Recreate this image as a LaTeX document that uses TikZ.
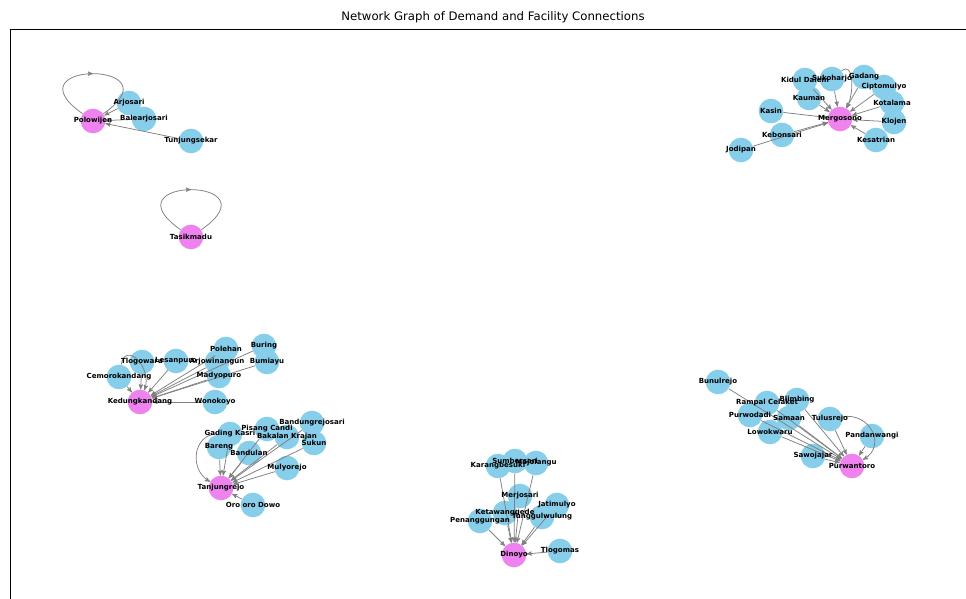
\documentclass[tikz,border=0pt]{standalone}
\usepackage{fontspec}
\setmainfont{DejaVu Sans}
\usepackage{tikz}
\usetikzlibrary{arrows,decorations.markings}
\definecolor{skyblue}{RGB}{135,206,235}
\definecolor{violetpink}{RGB}{238,130,238}
\definecolor{edgegray}{RGB}{128,128,128}
\tikzset{x=0.03cm, y=-0.03cm,
	demand/.style={
		circle,
		fill=skyblue,
		minimum size=0.74cm,
		inner sep=0pt
	},
	facility/.style={
		circle,
		fill=violetpink,
		minimum size=0.74cm,
		inner sep=0pt
	},
	lbl/.style={font=\bfseries\fontsize{6}{7}\selectfont, inner sep=0pt},
	every edge/.style={
		draw=edgegray,
		->,>=stealth',
		line width=0.65pt
	},
	selfloop/.style={
		draw=edgegray,
		line width=0.65pt,
		postaction={decorate},
		decoration={markings, mark=at position 0.5 with {\arrow{stealth'}}}
	}
}

\begin{document}
\begin{tikzpicture}
	\useasboundingbox (0,0) rectangle (966,599);
	\node (title) at (493,17) {\fontsize{10}{12}\selectfont Network Graph of Demand and Facility Connections};
	\draw[line width=0.7pt] (10,599) -- (10,29) -- (966,29);

	% Polowijen and Tasikmadu
	\node[facility] (polowijen) at (93,121) {};
	\node[demand] (arjosari) at (129,103) {};
	\node[demand] (balearjosari) at (144,119) {};
	\node[demand] (tunjungsekar) at (191,141) {};
	\node[facility] (tasikmadu) at (191,237) {};

	% Mergosono
	\node[facility] (mergosono) at (840,119) {};
	\node[demand] (kiduldalem) at (805,80) {};
	\node[demand] (sukoharjo) at (832,79) {};
	\node[demand] (gadang) at (864,77) {};
	\node[demand] (ciptomulyo) at (884,87) {};
	\node[demand] (kotalama) at (892,103) {};
	\node[demand] (klojen) at (894,122) {};
	\node[demand] (kesatrian) at (876,140) {};
	\node[demand] (kauman) at (809,98) {};
	\node[demand] (kasin) at (771,111) {};
	\node[demand] (kebonsari) at (782,135) {};
	\node[demand] (jodipan) at (741,150) {};

	% Kedungkandang
	\node[facility] (kedungkandang) at (140,402) {};
	\node[demand] (wonokoyo) at (215,402) {};
	\node[demand] (cemorokandang) at (119,377) {};
	\node[demand] (tlogowaru) at (142,362) {};
	\node[demand] (lesanpuro) at (176,361) {};
	\node[demand] (polehan) at (226,349) {};
	\node[demand] (arjowinangun) at (217,362) {};
	\node[demand] (madyopuro) at (219,376) {};
	\node[demand] (buring) at (264,346) {};
	\node[demand] (bumiayu) at (267,362) {};

	% Tanjungrejo
	\node[facility] (tanjungrejo) at (221,488) {};
	\node[demand] (orooro) at (253,505) {};
	\node[demand] (mulyorejo) at (287,468) {};
	\node[demand] (bandungrejosari) at (312,423) {};
	\node[demand] (sukun) at (314,443) {};
	\node[demand] (bakalan) at (287,437) {};
	\node[demand] (pisangcandi) at (267,429) {};
	\node[demand] (gadingkasri) at (230,434) {};
	\node[demand] (bareng) at (219,447) {};
	\node[demand] (bandulan) at (249,453) {};

	% Dinoyo
	\node[facility] (dinoyo) at (514,555) {};
	\node[demand] (tlogomas) at (560,551) {};
	\node[demand] (sumbersari) at (515,461) {};
	\node[demand] (karangbesuki) at (498,466) {};
	\node[demand] (mojolangu) at (536,463) {};
	\node[demand] (merjosari) at (520,496) {};
	\node[demand] (jatimulyo) at (557,505) {};
	\node[demand] (ketawanggede) at (505,513) {};
	\node[demand] (tunggulwulung) at (542,517) {};
	\node[demand] (penanggungan) at (480,521) {};

	% Purwantoro
	\node[facility] (purwantoro) at (852,466) {};
	\node[demand] (bunulrejo) at (718,382) {};
	\node[demand] (rampal) at (767,403) {};
	\node[demand] (blimbing) at (797,400) {};
	\node[demand] (purwodadi) at (750,415) {};
	\node[demand] (samaan) at (789,418) {};
	\node[demand] (tulusrejo) at (830,419) {};
	\node[demand] (lowokwaru) at (770,432) {};
	\node[demand] (pandanwangi) at (872,436) {};
	\node[demand] (sawojajar) at (813,456) {};

	% connections
	\draw (arjosari) edge (polowijen) (balearjosari) edge (polowijen) (tunjungsekar) edge (polowijen);
	\draw[selfloop] (polowijen) to[out=145,in=35,distance=2.8cm] (polowijen);
	\draw[selfloop] (tasikmadu) to[out=145,in=35,distance=2.8cm] (tasikmadu);

	\draw (kiduldalem) edge (mergosono) (sukoharjo) edge (mergosono) (gadang) edge (mergosono)
		(ciptomulyo) edge (mergosono) (kotalama) edge (mergosono) (klojen) edge (mergosono)
		(kesatrian) edge (mergosono) (kauman) edge (mergosono) (kasin) edge (mergosono)
		(kebonsari) edge (mergosono) (jodipan) edge (mergosono);
	\draw (sukoharjo) edge[out=40,in=60,looseness=1.1] (mergosono);

	\draw (wonokoyo) edge (kedungkandang) (cemorokandang) edge (kedungkandang) (tlogowaru) edge (kedungkandang)
		(lesanpuro) edge (kedungkandang) (polehan) edge (kedungkandang) (arjowinangun) edge (kedungkandang)
		(madyopuro) edge (kedungkandang) (buring) edge (kedungkandang) (bumiayu) edge (kedungkandang);
	\draw (cemorokandang) edge[out=80,in=70,looseness=1.8] (kedungkandang);

	\draw (orooro) edge (tanjungrejo) (mulyorejo) edge (tanjungrejo) (bandungrejosari) edge (tanjungrejo)
		(sukun) edge (tanjungrejo) (bakalan) edge (tanjungrejo) (pisangcandi) edge (tanjungrejo)
		(gadingkasri) edge (tanjungrejo) (bareng) edge (tanjungrejo) (bandulan) edge (tanjungrejo);
	\draw (gadingkasri) edge[out=180,in=150,looseness=1.3] (tanjungrejo);

	\draw (tlogomas) edge (dinoyo) (sumbersari) edge (dinoyo) (karangbesuki) edge (dinoyo)
		(mojolangu) edge (dinoyo) (merjosari) edge (dinoyo) (jatimulyo) edge (dinoyo)
		(ketawanggede) edge (dinoyo) (tunggulwulung) edge (dinoyo) (penanggungan) edge (dinoyo);

	\draw (bunulrejo) edge (purwantoro) (rampal) edge (purwantoro) (blimbing) edge (purwantoro)
		(purwodadi) edge (purwantoro) (samaan) edge (purwantoro) (tulusrejo) edge (purwantoro)
		(lowokwaru) edge (purwantoro) (pandanwangi) edge (purwantoro) (sawojajar) edge (purwantoro);
	\draw (tulusrejo) edge[out=10,in=30,looseness=1.5] (purwantoro);

	% labels
	\node[lbl] (polowijenT) at (polowijen) {Polowijen};
	\node[lbl] (arjosariT) at (arjosari) {Arjosari};
	\node[lbl] (balearjosariT) at (balearjosari) {Balearjosari};
	\node[lbl] (tunjungsekarT) at (tunjungsekar) {Tunjungsekar};
	\node[lbl] (tasikmaduT) at (tasikmadu) {Tasikmadu};

	\node[lbl] (mergosonoT) at (mergosono) {Mergosono};
	\node[lbl] (kiduldalemT) at (kiduldalem) {Kidul Dalem};
	\node[lbl] (sukoharjoT) at (sukoharjo) {Sukoharjo};
	\node[lbl] (gadangT) at (gadang) {Gadang};
	\node[lbl] (ciptomulyoT) at (ciptomulyo) {Ciptomulyo};
	\node[lbl] (kotalamaT) at (kotalama) {Kotalama};
	\node[lbl] (klojenT) at (klojen) {Klojen};
	\node[lbl] (kesatrianT) at (kesatrian) {Kesatrian};
	\node[lbl] (kaumanT) at (kauman) {Kauman};
	\node[lbl] (kasinT) at (kasin) {Kasin};
	\node[lbl] (kebonsariT) at (kebonsari) {Kebonsari};
	\node[lbl] (jodipanT) at (jodipan) {Jodipan};

	\node[lbl] (kedungkandangT) at (kedungkandang) {Kedungkandang};
	\node[lbl] (wonokoyoT) at (wonokoyo) {Wonokoyo};
	\node[lbl] (cemorokandangT) at (cemorokandang) {Cemorokandang};
	\node[lbl] (tlogowaruT) at (tlogowaru) {Tlogowaru};
	\node[lbl] (lesanpuroT) at (lesanpuro) {Lesanpuro};
	\node[lbl] (polehanT) at (polehan) {Polehan};
	\node[lbl] (arjowinangunT) at (arjowinangun) {Arjowinangun};
	\node[lbl] (madyopuroT) at (madyopuro) {Madyopuro};
	\node[lbl] (buringT) at (buring) {Buring};
	\node[lbl] (bumiayuT) at (bumiayu) {Bumiayu};

	\node[lbl] (tanjungrejoT) at (tanjungrejo) {Tanjungrejo};
	\node[lbl] (orooroT) at (orooro) {Oro oro Dowo};
	\node[lbl] (mulyorejoT) at (mulyorejo) {Mulyorejo};
	\node[lbl] (bandungrejosariT) at (bandungrejosari) {Bandungrejosari};
	\node[lbl] (sukunT) at (sukun) {Sukun};
	\node[lbl] (bakalanT) at (bakalan) {Bakalan Krajan};
	\node[lbl] (pisangcandiT) at (pisangcandi) {Pisang Candi};
	\node[lbl] (gadingkasriT) at (gadingkasri) {Gading Kasri};
	\node[lbl] (barengT) at (bareng) {Bareng};
	\node[lbl] (bandulanT) at (bandulan) {Bandulan};

	\node[lbl] (dinoyoT) at (dinoyo) {Dinoyo};
	\node[lbl] (tlogomasT) at (tlogomas) {Tlogomas};
	\node[lbl] (sumbersariT) at (sumbersari) {Sumbersari};
	\node[lbl] (karangbesukiT) at (karangbesuki) {Karangbesuki};
	\node[lbl] (mojolanguT) at (mojolangu) {Mojolangu};
	\node[lbl] (merjosariT) at (merjosari) {Merjosari};
	\node[lbl] (jatimulyoT) at (jatimulyo) {Jatimulyo};
	\node[lbl] (ketawanggedeT) at (ketawanggede) {Ketawanggede};
	\node[lbl] (tunggulwulungT) at (tunggulwulung) {Tunggulwulung};
	\node[lbl] (penanggunganT) at (penanggungan) {Penanggungan};

	\node[lbl] (purwantoroT) at (purwantoro) {Purwantoro};
	\node[lbl] (bunulrejoT) at (bunulrejo) {Bunulrejo};
	\node[lbl] (rampalT) at (rampal) {Rampal Celaket};
	\node[lbl] (blimbingT) at (blimbing) {Blimbing};
	\node[lbl] (purwodadiT) at (purwodadi) {Purwodadi};
	\node[lbl] (samaanT) at (samaan) {Samaan};
	\node[lbl] (tulusrejoT) at (tulusrejo) {Tulusrejo};
	\node[lbl] (lowokwaruT) at (lowokwaru) {Lowokwaru};
	\node[lbl] (pandanwangiT) at (pandanwangi) {Pandanwangi};
	\node[lbl] (sawojajarT) at (sawojajar) {Sawojajar};
\end{tikzpicture}
\end{document}
